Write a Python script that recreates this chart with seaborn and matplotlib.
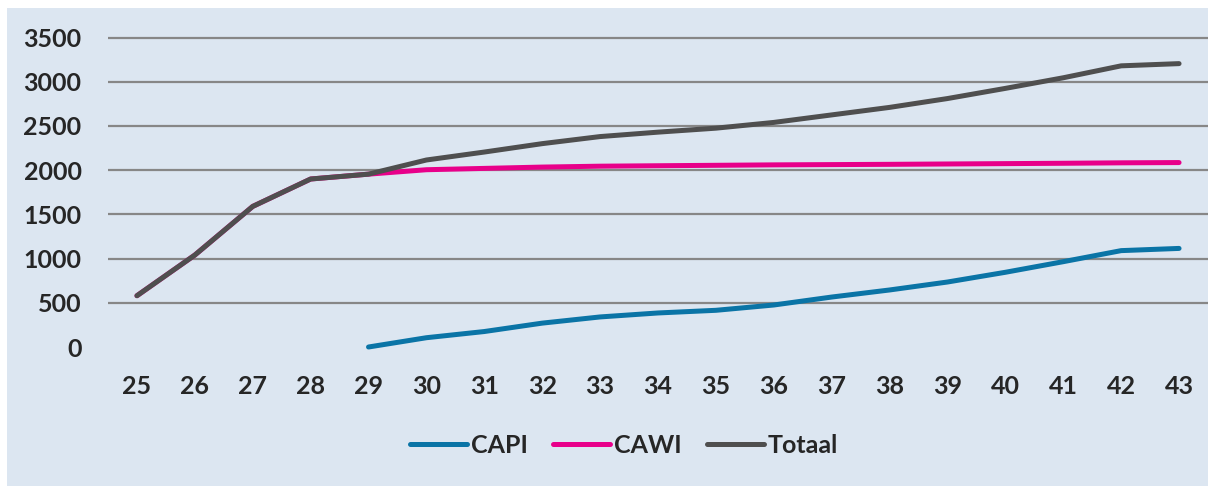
import numpy as np
import pandas as pd
import seaborn as sns
import matplotlib.pyplot as plt
from matplotlib.patches import Rectangle

weeks = list(range(25, 44))
capi = [np.nan, np.nan, np.nan, np.nan, 0, 105, 175, 270, 340, 385, 415, 475,
        565, 645, 735, 845, 965, 1090, 1115]
cawi = [580, 1040, 1590, 1900, 1955, 2005, 2020, 2035, 2045, 2050, 2055, 2060,
        2063, 2066, 2070, 2074, 2078, 2083, 2086]
totaal = [580, 1040, 1590, 1900, 1955, 2115, 2205, 2300, 2380, 2430, 2475, 2540,
          2625, 2710, 2810, 2925, 3045, 3180, 3205]
series = ["CAPI", "CAWI", "Totaal"]
colors = {"CAPI": "#0a74a6", "CAWI": "#e8008a", "Totaal": "#4f4f4f"}
yticks = [0, 500, 1000, 1500, 2000, 2500, 3000, 3500]

df = pd.DataFrame({"week": weeks * 3,
                   "n": capi + cawi + totaal,
                   "reeks": ["CAPI"] * 19 + ["CAWI"] * 19 + ["Totaal"] * 19})

sns.set_style("white")
plt.rcParams['font.family'] = ['Lato', 'DejaVu Sans']
panel = "#dce6f1"

fig = plt.figure(figsize=(12.08, 4.86), dpi=100)
fig.patch.set_facecolor("white")
fig.patches.append(Rectangle((7 / 1208, 0), 1, 1 - 8 / 486, transform=fig.transFigure,
                             facecolor=panel, edgecolor="none", zorder=-10))

W, H = 1208, 486
ax = fig.add_axes([108 / W, 1 - 347 / H, 1 - 108 / W, (347 - 28.7) / H])
ax.set_facecolor("none")

sns.lineplot(data=df, x="week", y="n", hue="reeks", hue_order=series,
             palette=colors, linewidth=3.6, ax=ax, legend=False,
             solid_capstyle="round", solid_joinstyle="round")
for ln in ax.get_lines():
    ln.set_clip_on(False)

ax.set_xlim(24.5, 43.5)
ax.set_ylim(0, 3600)
ax.set_xticks(weeks)
ax.set_yticks(yticks)
ax.set_xlabel("")
ax.set_ylabel("")
for s in ax.spines.values():
    s.set_visible(False)
ax.grid(axis="y", color="#878787", linewidth=1.6)
ax.get_ygridlines()[0].set_visible(False)  # no line at 0
ax.set_axisbelow(True)
ax.tick_params(axis="both", length=0, labelsize=18)
ax.tick_params(axis="y", pad=19)
ax.tick_params(axis="x", pad=20)
for lab in ax.get_xticklabels() + ax.get_yticklabels():
    lab.set_fontweight("bold")

handles = [plt.Line2D([], [], color=colors[s], linewidth=3.6, solid_capstyle="round")
           for s in series]
fig.legend(handles, series, loc="center", bbox_to_anchor=(624 / W, 1 - 445 / H),
           ncol=3, frameon=False, handlelength=2.3, handletextpad=0.15,
           columnspacing=1.0, prop={"size": 18, "weight": "bold"})

fig.savefig("out.png", dpi=100, facecolor=fig.get_facecolor())
